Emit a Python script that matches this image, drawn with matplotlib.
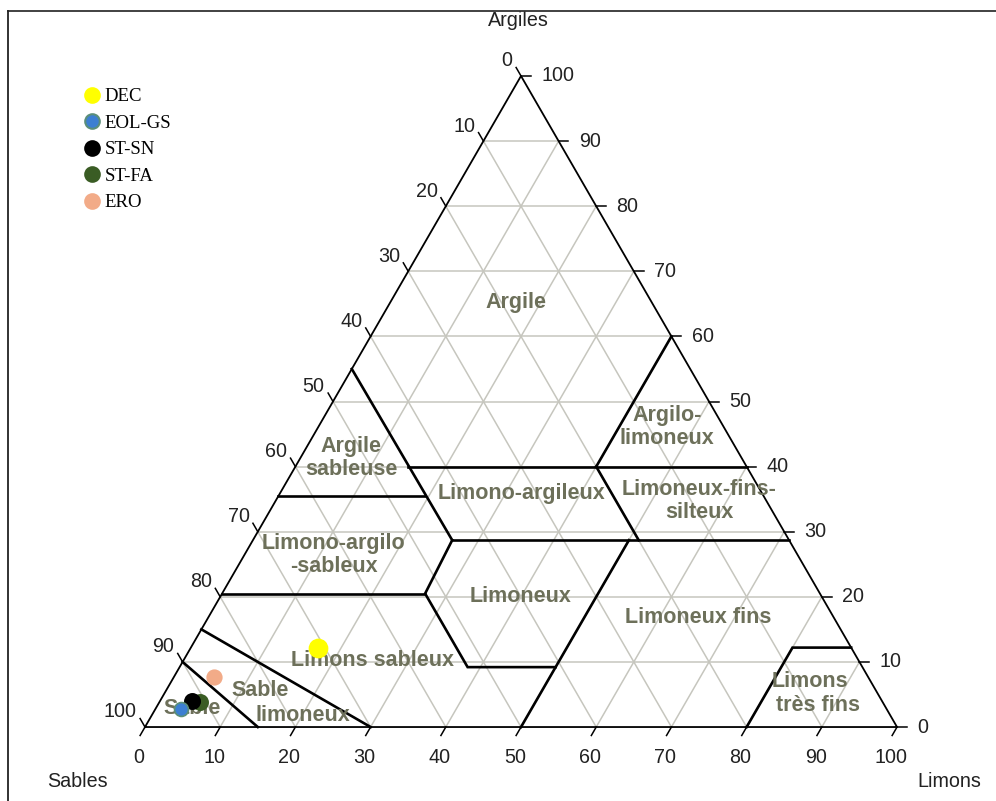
import numpy as np
import matplotlib.pyplot as plt
from matplotlib.lines import Line2D

# échantillons : % limons, % argiles (sables = reste)
echantillons = ['DEC', 'EOL-GS', 'ST-SN', 'ST-FA', 'ERO']
limons = [17.0, 3.4, 4.2, 5.4, 5.3]
argiles = [12.1, 2.7, 4.0, 3.9, 7.7]
couleurs = ['#ffff00', '#3c7fd2', '#000000', '#3a5c24', '#f2ab88']
bords = ['#ffff00', '#5b8f7a', '#000000', '#3a5c24', '#f2ab88']
tailles = [13, 10, 11, 11, 10.5]
ordre = [0, 4, 3, 2, 1]

# limites des classes de texture, en (limons, argiles)
limites = [
    [(0, 55), (26.5, 28.7)],
    [(15, 40), (60, 40)],
    [(40, 40), (40, 60)],
    [(0, 35.5), (19.5, 35.5)],
    [(26.5, 28.7), (71.3, 28.7)],
    [(40, 40), (51.3, 28.7)],
    [(26.5, 28.7), (27, 20.5), (38.3, 9.2), (50, 9.2)],
    [(0, 20.5), (27, 20.5)],
    [(50, 28.7), (50, 0)],
    [(0, 15), (30, 0)],
    [(0, 10), (15, 0)],
    [(80, 0), (80, 12.2), (87.8, 12.2)],
]

# noms des classes et position (x, y) dans le repère du triangle
classes = [
    ('Argile', 49.3, 56.5),
    ('Argile\nsableuse', 27.4, 35.8),
    ('Argilo-\nlimoneux', 69.4, 39.9),
    ('Limono-argileux', 50.0, 31.0),
    ('Limoneux-fins-\nsilteux', 73.7, 30.1),
    ('Limono-argilo\n-sableux', 25.1, 22.9),
    ('Limoneux', 49.9, 17.4),
    ('Limoneux fins', 73.5, 14.6),
    ('Limons sableux', 30.3, 8.8),
    ('Sable', 15.3, 4.9),
    ('limoneux', 21.0, 1.5),
    ('Sable', 6.25, 2.5),
    ('Limons', 88.4, 6.0),
    ('très fins', 89.5, 2.8),
]

graduations = np.arange(0, 101, 10)
H = np.sqrt(3) / 2


def tern(s, c):
    s = np.asarray(s, dtype=float)
    c = np.asarray(c, dtype=float)
    return s + c / 2, c * H


fig = plt.figure(figsize=(9.96, 8.01), dpi=100)
ax = fig.add_axes([0, 0, 1, 1])
ax.set_xlim(-19.28, 113.16)
ax.set_ylim(-9.84, 96.71)
ax.axis('off')

gris = '#c6c6be'
# grille tous les 10 %
for v in graduations[1:-1]:
    for a, b in [((0, v), (100 - v, v)),
                 ((v, 0), (v, 100 - v)),
                 ((100 - v, 0), (0, 100 - v))]:
        x, y = tern([a[0], b[0]], [a[1], b[1]])
        ax.plot(x, y, color=gris, lw=1.1, zorder=1)

# contour du triangle
x, y = tern([0, 100, 0, 0], [0, 0, 100, 0])
ax.plot(x, y, color='black', lw=1.3, zorder=3)

# graduations et étiquettes
L = 1.3
police = dict(family='Liberation Sans', fontsize=14.2, color='#222222')
for v in graduations:
    # argiles (côté droit)
    x0, y0 = tern(100 - v, v)
    ax.plot([x0, x0 + L], [y0, y0], color='black', lw=1.1, zorder=3)
    ax.text(x0 + 2.7, y0, str(v), ha='left', va='center', **police)
    # limons (base)
    x0, y0 = tern(v, 0)
    ax.plot([x0, x0 - L / 2], [y0, y0 - L * H], color='black', lw=1.1, zorder=3)
    ax.text(x0 - 0.8, y0 - 4.1, str(v), ha='center', va='center', **police)
    # sables (côté gauche)
    x0, y0 = tern(0, 100 - v)
    ax.plot([x0, x0 - L / 2], [y0, y0 + L * H], color='black', lw=1.1, zorder=3)
    ax.text(x0 - 1.1, y0 + 2.0, str(v), ha='right', va='center', **police)

ax.text(49.7, 94.0, 'Argiles', ha='center', va='center', **police)
ax.text(-9.0, -7.2, 'Sables', ha='center', va='center', **police)
ax.text(107.0, -7.2, 'Limons', ha='center', va='center', **police)

# limites des classes
for seg in limites:
    s, c = zip(*seg)
    x, y = tern(s, c)
    ax.plot(x, y, color='black', lw=1.9, zorder=4, solid_joinstyle='miter')

for nom, x, y in classes:
    ax.text(x, y, nom, ha='center', va='center', family='Liberation Sans',
            fontweight='bold', fontsize=15.5, color='#6d705a',
            linespacing=1.12, zorder=5)

# échantillons
for i in ordre:
    x, y = tern(limons[i], argiles[i])
    ax.plot(x, y, 'o', ms=tailles[i], color=couleurs[i],
            mec=bords[i], mew=1.2, zorder=6)

poignees = [Line2D([], [], ls='', marker='o', ms=10.5, color=couleurs[i],
                   mec=bords[i], mew=1.5) for i in range(len(echantillons))]
ax.legend(poignees, echantillons, loc='upper left', frameon=False,
          bbox_to_anchor=(86 / 996, 1 - 88 / 801), borderaxespad=0, borderpad=0,
          handlelength=0.6, handletextpad=0.4, labelspacing=0.5,
          prop=dict(family='Liberation Serif', size=13.5))

# cadre
fig.add_artist(Line2D([8 / 996, 1], [1 - 11 / 801] * 2, color='#333333',
                      lw=1.3, transform=fig.transFigure))
fig.add_artist(Line2D([8 / 996] * 2, [0, 1 - 11 / 801], color='#222222',
                      lw=1.3, transform=fig.transFigure))

fig.savefig('out.png', dpi=100)
